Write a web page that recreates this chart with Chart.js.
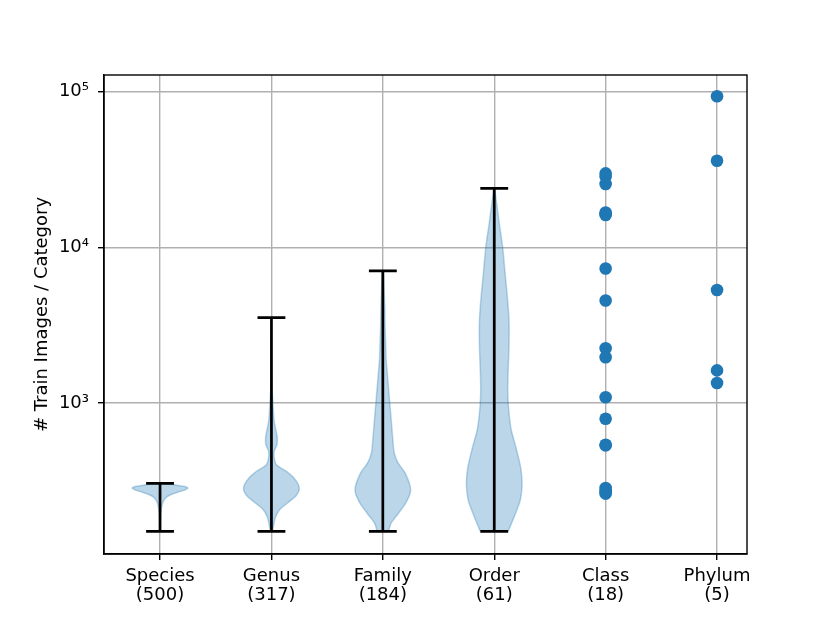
<!DOCTYPE html>
<html>
<head>
<meta charset="utf-8">
<script src="https://cdn.jsdelivr.net/npm/chart.js@4/dist/chart.umd.min.js"></script>
<style>
  html, body { margin: 0; padding: 0; background: #fff; }
  #wrap { width: 830px; height: 623px; }
</style>
</head>
<body>
<div id="wrap"><canvas id="chart"></canvas></div>
<script>
const categories = ['Species', 'Genus', 'Family', 'Order', 'Class', 'Phylum'];
const counts = [500, 317, 184, 61, 18, 5];

// violin outlines: value level -> relative width (1 = widest)
const speciesLevels = [150, 180, 212, 229, 246, 258, 271, 277, 285, 292, 299, 305];
const speciesDensity = [0.01, 0.02, 0.05, 0.1, 0.2, 0.38, 0.73, 0.9, 1.0, 0.85, 0.5, 0.2];

const genusLevels = [150, 161, 184, 207, 230, 252, 278, 299, 332, 364, 402, 446, 489, 541, 600, 658, 762, 883, 1024, 1254, 1634, 2197, 3540];
const genusDensity = [0.04, 0.07, 0.14, 0.3, 0.6, 0.87, 1.0, 0.97, 0.8, 0.54, 0.18, 0.1, 0.1, 0.2, 0.21, 0.17, 0.1, 0.07, 0.05, 0.02, 0.01, 0.006, 0.004];

const familyLevels = [150, 170, 197, 229, 278, 356, 412, 478, 582, 708, 863, 1050, 1277, 1557, 1896, 2425, 3097, 3963, 5070, 7050];
const familyDensity = [0.2, 0.3, 0.57, 0.83, 1.0, 0.8, 0.55, 0.41, 0.36, 0.32, 0.28, 0.24, 0.2, 0.16, 0.12, 0.1, 0.08, 0.07, 0.05, 0.02];

const orderLevels = [150, 197, 240, 307, 393, 527, 674, 863, 1102, 1409, 2306, 3420, 4820, 6810, 10090, 14260, 20100, 23900];
const orderDensity = [0.5, 0.77, 0.94, 1.0, 0.94, 0.77, 0.61, 0.53, 0.49, 0.49, 0.53, 0.53, 0.47, 0.39, 0.3, 0.18, 0.07, 0.01];

const violinMin = [150, 150, 150, 150];
const violinMax = [305, 3540, 7050, 23900];

const classValues = [29800, 28500, 25500, 16700, 16400, 16100, 7300, 4550, 2250, 1970, 1090, 793, 540, 535, 285, 275, 268, 262];
const phylumValues = [93300, 35900, 5320, 1620, 1345];

const yTicks = [1000, 10000, 100000];

/* ---------------- build datasets ---------------- */

const VIOLIN_HALF = 0.25;
const CAP_HALF = 0.125;
const BLUE = '#1f77b4';
const VIOLIN_FILL = 'rgba(31,119,180,0.3)';

function violinOutline(pos, levels, density) {
  const left = levels.map((v, i) => ({ x: pos - VIOLIN_HALF * density[i], y: v }));
  const right = levels.map((v, i) => ({ x: pos + VIOLIN_HALF * density[i], y: v })).reverse();
  return left.concat(right);
}

function extremaPath(pos, lo, hi) {
  return [
    { x: pos - CAP_HALF, y: lo }, { x: pos + CAP_HALF, y: lo }, { x: pos, y: lo },
    { x: pos, y: hi }, { x: pos - CAP_HALF, y: hi }, { x: pos + CAP_HALF, y: hi }
  ];
}

const violins = [
  [speciesLevels, speciesDensity],
  [genusLevels, genusDensity],
  [familyLevels, familyDensity],
  [orderLevels, orderDensity]
];

const datasets = [];

violins.forEach(([lv, dn], i) => {
  datasets.push({
    data: violinOutline(i + 1, lv, dn),
    showLine: true,
    fill: 'shape',
    backgroundColor: VIOLIN_FILL,
    borderColor: VIOLIN_FILL,
    borderWidth: 1.5,
    tension: 0.3,
    pointRadius: 0,
    order: 3
  });
  datasets.push({
    data: extremaPath(i + 1, violinMin[i], violinMax[i]),
    showLine: true,
    fill: false,
    borderColor: '#000',
    borderWidth: 2.7,
    tension: 0,
    pointRadius: 0,
    order: 1
  });
});

datasets.push({
  data: classValues.map(v => ({ x: 5, y: v })),
  backgroundColor: BLUE,
  borderWidth: 0,
  pointRadius: 6.3,
  order: 2
});
datasets.push({
  data: phylumValues.map(v => ({ x: 6, y: v })),
  backgroundColor: BLUE,
  borderWidth: 0,
  pointRadius: 6.3,
  order: 2
});

/* ---------------- frame (top/right spines) ---------------- */

const framePlugin = {
  id: 'frame',
  afterDraw(chart) {
    const { ctx, chartArea: a } = chart;
    ctx.save();
    ctx.strokeStyle = '#000';
    ctx.lineWidth = 1.4;
    ctx.strokeRect(a.left, a.top, a.right - a.left, a.bottom - a.top);
    ctx.restore();
  }
};

const sup = { 3: '\u00B3', 4: '\u2074', 5: '\u2075' };
const font = { family: 'DejaVu Sans', size: 18 };

new Chart(document.getElementById('chart'), {
  type: 'scatter',
  data: { datasets },
  options: {
    responsive: true,
    maintainAspectRatio: false,
    animation: false,
    events: [],
    layout: { padding: { top: 75, right: 83, left: 0, bottom: 0 } },
    plugins: {
      legend: { display: false },
      tooltip: { enabled: false }
    },
    scales: {
      x: {
        type: 'linear',
        min: 0.497,
        max: 6.269,
        afterBuildTicks: s => { s.ticks = categories.map((c, i) => ({ value: i + 1 })); },
        afterFit: s => { s.height = 69; },
        ticks: {
          color: '#000',
          font: { ...font, lineHeight: 1.1 },
          padding: 6,
          maxRotation: 0,
          callback: (v) => [categories[v - 1], '(' + counts[v - 1] + ')']
        },
        grid: { color: '#b0b0b0', lineWidth: 1.4, tickColor: '#000', tickLength: 6, tickWidth: 1.4 },
        border: { color: '#000', width: 1.4 }
      },
      y: {
        type: 'logarithmic',
        min: 107.4,
        max: 127600,
        afterBuildTicks: s => { s.ticks = yTicks.map(v => ({ value: v })); },
        afterFit: s => { s.width = 104; },
        ticks: {
          color: '#000',
          font,
          padding: 9,
          callback: v => '10' + sup[Math.round(Math.log10(v))]
        },
        grid: { color: '#b0b0b0', lineWidth: 1.4, tickColor: '#000', tickLength: 6, tickWidth: 1.4 },
        border: { color: '#000', width: 1.4 },
        title: {
          display: true,
          text: '# Train Images / Category',
          color: '#000',
          font: { ...font, lineHeight: 1.2 },
          padding: { top: 32, bottom: 0 }
        }
      }
    }
  },
  plugins: [framePlugin]
});
</script>
</body>
</html>
